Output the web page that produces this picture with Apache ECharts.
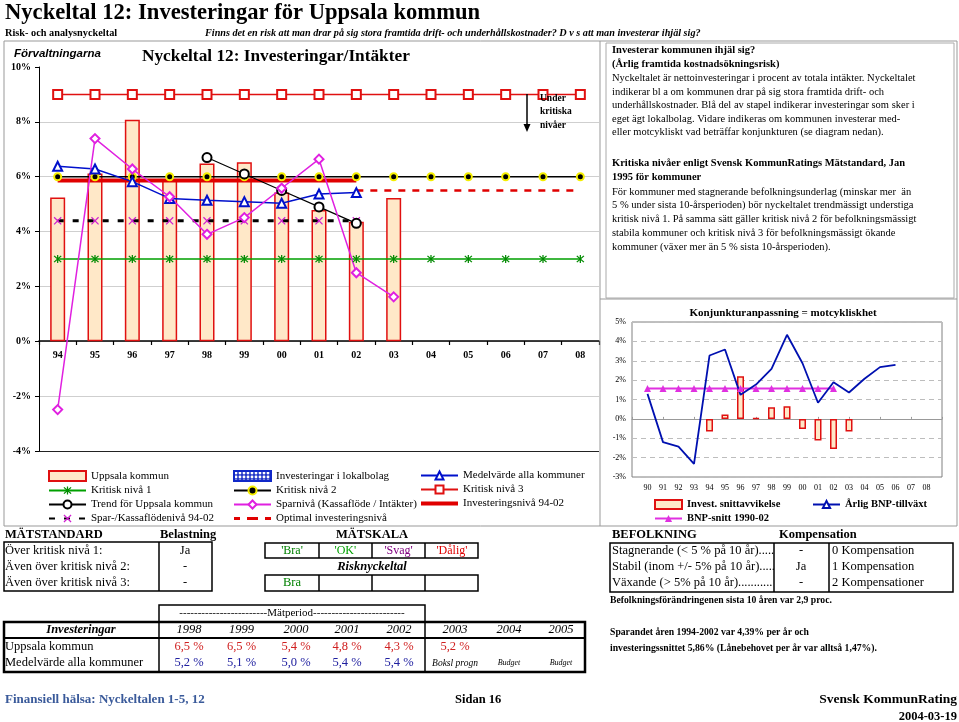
<!DOCTYPE html>
<html><head><meta charset="utf-8">
<script src="https://cdn.jsdelivr.net/npm/echarts@6/dist/echarts.min.js"></script>
<style>html,body{margin:0;padding:0;background:#fff}#c{width:959px;height:722px}</style>
</head><body><div id="c"></div>
<script>
// ---------- DATA ----------
const years = ['94','95','96','97','98','99','00','01','02','03','04','05','06','07','08'];
const uppsala = [5.24, 6.12, 8.08, 5.88, 6.48, 6.53, 5.42, 4.79, 4.36, 5.22, null, null, null, null, null];
const lokalbolag = [];
const medelvarde = [6.38, 6.28, 5.82, 5.21, 5.14, 5.09, 5.03, 5.37, 5.42, null, null, null, null, null, null];
const kritisk1 = [3, 3, 3, 3, 3, 3, 3, 3, 3, 3, 3, 3, 3, 3, 3];
const kritisk2 = [6, 6, 6, 6, 6, 6, 6, 6, 6, 6, 6, 6, 6, 6, 6];
const kritisk3 = [9, 9, 9, 9, 9, 9, 9, 9, 9, 9, 9, 9, 9, 9, 9];
const trend = [null, null, null, null, 6.7, 6.1, 5.5, 4.9, 4.3, null, null, null, null, null, null];
const sparniva = [-2.49, 7.39, 6.28, 5.27, 3.90, 4.51, 5.58, 6.64, 2.50, 1.62, null, null, null, null, null];
const sparKassaNiva = [4.39, 4.39, 4.39, 4.39, 4.39, 4.39, 4.39, 4.39, 4.39, null, null, null, null, null, null];
const investNiva = [5.86, 5.86, 5.86, 5.86, 5.86, 5.86, 5.86, 5.86, 5.86, null, null, null, null, null, null];
const optimalNiva = [null, null, null, null, null, null, null, null, 5.5, 5.5, 5.5, 5.5, 5.5, 5.5, 5.5];

const smallYears = ['90','91','92','93','94','95','96','97','98','99','00','01','02','03','04','05','06','07','08'];
const investAvvik = [null, null, null, null, -0.65, 0.22, 2.2, 0.04, 0.6, 0.65, -0.52, -1.12, -1.55, -0.65, null, null, null, null, null];
const bnpTillvaxt = [1.29, -1.2, -1.43, -2.32, 3.27, 3.58, 1.24, 1.77, 2.58, 4.34, 2.87, 0.83, 1.89, 1.36, 2.07, 2.67, 2.79, null, null];
const bnpSnitt = [1.57, 1.57, 1.57, 1.57, 1.57, 1.57, 1.57, 1.57, 1.57, 1.57, 1.57, 1.57, 1.57, null, null, null, null, null, null];

const tableYears = ['1998','1999','2000','2001','2002','2003','2004','2005'];
const tableUppsala = ['6,5 %','6,5 %','5,4 %','4,8 %','4,3 %','5,2 %'];
const tableMedel = ['5,2 %','5,1 %','5,0 %','5,4 %','5,4 %'];
const tableNotes = ['Boksl progn','Budget','Budget'];

// ---------- STYLE ----------
const SERIF = "'Liberation Serif','Times New Roman',serif";
const SANS = "'Liberation Sans',Arial,sans-serif";
const ASTERISK = 'path://M4.3 0L5.7 0L5.7 10L4.3 10Z M0.5 1.5L1.5 0.5L9.5 8.5L8.5 9.5Z M8.5 0.5L9.5 1.5L1.5 9.5L0.5 8.5Z';
const XMARK = 'path://M0.5 1.5L1.5 0.5L9.5 8.5L8.5 9.5Z M8.5 0.5L9.5 1.5L1.5 9.5L0.5 8.5Z';
const THICKLINE_ICON = 'path://M0 0L37 0L37 4L0 4Z';
const DASH_ICON = 'path://M0 0L6 0L6 3L0 3Z M13 0L24 0L24 3L13 3Z M31 0L37 0L37 3L31 3Z';

function T(x, y, s, font, fill, align) {
  return {type:'text', x:x, y:y, silent:true, z:100,
    style:{text:s, font:font, fill:fill || '#000', textAlign:align || 'left', textVerticalAlign:'middle', align:align || 'left', verticalAlign:'middle'}};
}
function R(x, y, w, h, stroke, lw) {
  return {type:'rect', silent:true, z:90, shape:{x:x, y:y, width:w, height:h}, style:{fill:'none', stroke:stroke || '#000', lineWidth:lw || 1}};
}
function L(x1, y1, x2, y2, stroke, lw) {
  return {type:'line', silent:true, z:90, shape:{x1:x1, y1:y1, x2:x2, y2:y2}, style:{stroke:stroke || '#000', lineWidth:lw || 1}};
}
const f = (w, s, fam, st) => (st ? st + ' ' : '') + (w ? w + ' ' : '') + s + 'px ' + (fam || SERIF);

const g = [];
// header
g.push(T(5, 13, 'Nyckeltal 12: Investeringar för Uppsala kommun', f('bold', 22.6)));
g.push(T(5, 33, 'Risk- och analysnyckeltal', f('bold', 10.3)));
g.push(T(205, 33, 'Finns det en risk att man drar på sig stora framtida drift- och underhållskostnader? D v s att man investerar ihjäl sig?', f('bold', 10.2, SERIF, 'italic')));
// panels
g.push(R(4, 41, 953, 485, '#999', 1));
g.push(L(600, 41, 600, 526, '#999', 1));
g.push(R(606, 43, 348, 255, '#aaa', 1));
g.push(L(600, 299, 957, 299, '#999', 1));
// main chart titles
g.push(T(14, 54, 'Förvaltningarna', f('bold', 11.5, SANS, 'italic')));
g.push(T(142, 57, 'Nyckeltal 12: Investeringar/Intäkter', f('bold', 17.3)));
// under kritiska nivåer
g.push(L(527, 94, 527, 125, '#000', 1.5));
g.push({type:'polygon', silent:true, z:90, shape:{points:[[523.5,124],[530.5,124],[527,132]]}, style:{fill:'#000'}});
g.push(T(540, 99, 'Under', f('bold', 9.5)));
g.push(T(540, 112, 'kritiska', f('bold', 9.5)));
g.push(T(540, 126, 'nivåer', f('bold', 9.5)));

// right text panel
const rt = [
  [50, 'Investerar kommunen ihjäl sig?', 'bold'],
  [64, '(Årlig framtida kostnadsökningsrisk)', 'bold'],
  [78, 'Nyckeltalet är nettoinvesteringar i procent av totala intäkter. Nyckeltalet', ''],
  [92, 'indikerar bl a om kommunen drar på sig stora framtida drift- och', ''],
  [105.5, 'underhållskostnader. Blå del av stapel indikerar investeringar som sker i', ''],
  [119, 'eget ägt lokalbolag. Vidare indikeras om kommunen investerar med-', ''],
  [132.5, 'eller motcykliskt vad beträffar konjunkturen (se diagram nedan).', ''],
  [163, 'Kritiska nivåer enligt Svensk KommunRatings Mätstandard, Jan', 'bold'],
  [177, '1995 för kommuner', 'bold'],
  [192, 'För kommuner med stagnerande befolkningsunderlag (minskar mer  än', ''],
  [205.5, '5 % under sista 10-årsperioden) bör nyckeltalet trendmässigt understiga', ''],
  [219, 'kritisk nivå 1. På samma sätt gäller kritisk nivå 2 för befolkningsmässigt', ''],
  [233, 'stabila kommuner och kritisk nivå 3 för befolkningsmässigt ökande', ''],
  [247, 'kommuner (växer mer än 5 % sista 10-årsperioden).', '']
];
rt.forEach(r => g.push(T(612, r[0], r[1], f(r[2], 10.5))));

// small chart title
g.push(T(783, 313, 'Konjunkturanpassning = motcykliskhet', f('bold', 11), '#000', 'center'));

// MÄTSTANDARD block
g.push(T(5, 535, 'MÄTSTANDARD', f('bold', 12.5)));
g.push(T(160, 535, 'Belastning', f('bold', 12.5)));
g.push(R(4, 542, 208, 49, '#000', 1.5));
g.push(L(159, 542, 159, 591, '#000', 1.5));
const ms = [['Över kritisk nivå 1:', 'Ja'], ['Även över kritisk nivå 2:', '-'], ['Även över kritisk nivå 3:', '-']];
ms.forEach((m, i) => { g.push(T(5, 551 + i * 16, m[0], f('', 12.5))); g.push(T(185, 551 + i * 16, m[1], f('', 12.5), '#000', 'center')); });
// MÄTSKALA
g.push(T(372, 535, 'MÄTSKALA', f('bold', 12.5), '#000', 'center'));
g.push(R(265, 543, 213, 15, '#000', 1.5));
g.push(R(265, 575, 213, 16, '#000', 1.5));
[319, 372, 425].forEach(x => { g.push(L(x, 543, x, 558, '#000', 1.5)); g.push(L(x, 575, x, 591, '#000', 1.5)); });
const skala = [["'Bra'", '#008000'], ["'OK'", '#00A000'], ["'Svag'", '#800080'], ["'Dålig'", '#E00000']];
skala.forEach((s, i) => g.push(T(292 + i * 53.3, 551, s[0], f('', 12), s[1], 'center')));
g.push(T(372, 567, 'Risknyckeltal', f('bold', 12.5, SERIF, 'italic'), '#000', 'center'));
g.push(T(292, 583, 'Bra', f('', 12.5), '#008000', 'center'));

// Mätperiod table
g.push(R(159, 605, 266, 17, '#000', 1.5));
g.push(T(292, 613, '------------------------Mätperiod-------------------------', f('', 11), '#000', 'center'));
g.push(R(4, 622, 581, 50, '#000', 2.5));
g.push(L(4, 638, 585, 638, '#000', 2));
g.push(L(159, 622, 159, 672, '#000', 1.5));
g.push(L(425, 622, 425, 672, '#000', 1.5));
g.push(T(81, 630, 'Investeringar', f('bold', 12.5, SERIF, 'italic'), '#000', 'center'));
const colX = [189, 241.5, 296, 347, 399, 455, 509, 561];
tableYears.forEach((y, i) => g.push(T(colX[i], 630, y, f('', 12.5, SERIF, 'italic'), '#000', 'center')));
g.push(T(5, 647, 'Uppsala kommun', f('', 12.5)));
g.push(T(5, 663, 'Medelvärde alla kommuner', f('', 12.5)));
tableUppsala.forEach((v, i) => g.push(T(colX[i], 647, v, f('', 12.5), '#D02020', 'center')));
tableMedel.forEach((v, i) => g.push(T(colX[i], 663, v, f('', 12.5), '#2020A0', 'center')));
g.push(T(colX[5], 663, tableNotes[0], f('', 9.5, SERIF, 'italic'), '#000', 'center'));
g.push(T(colX[6], 663, tableNotes[1], f('', 8, SERIF, 'italic'), '#000', 'center'));
g.push(T(colX[7], 663, tableNotes[2], f('', 8, SERIF, 'italic'), '#000', 'center'));

// BEFOLKNING block
g.push(T(612, 535, 'BEFOLKNING', f('bold', 12.5)));
g.push(T(779, 535, 'Kompensation', f('bold', 12.5)));
g.push(R(610, 543, 343, 49, '#000', 1.5));
g.push(L(774, 543, 774, 592, '#000', 1.5));
g.push(L(829, 543, 829, 592, '#000', 1.5));
const bef = [['Stagnerande (< 5 % på 10 år).....', '-', '0 Kompensation'], ['Stabil (inom +/- 5% på 10 år).....', 'Ja', '1 Kompensation'], ['Växande (> 5% på 10 år)...........', '-', '2 Kompensationer']];
bef.forEach((b, i) => { const y = 551 + i * 16; g.push(T(612, y, b[0], f('', 12.5))); g.push(T(801, y, b[1], f('', 12.5), '#000', 'center')); g.push(T(832, y, b[2], f('', 12.5))); });
g.push(T(610, 600, 'Befolkningsförändringenen sista 10 åren var 2,9 proc.', f('bold', 9.7)));
g.push(T(610, 632, 'Sparandet åren 1994-2002 var 4,39% per år och', f('bold', 9.7)));
g.push(T(610, 648, 'investeringssnittet 5,86% (Lånebehovet per år var alltså 1,47%).', f('bold', 9.7)));

// footer
g.push(T(5, 700, 'Finansiell hälsa: Nyckeltalen 1-5, 12', f('bold', 13), '#3A5A9A'));
g.push(T(455, 700, 'Sidan 16', f('bold', 12.5)));
g.push(T(957, 700, 'Svensk KommunRating', f('bold', 13.5), '#000', 'right'));
g.push(T(957, 717, '2004-03-19', f('bold', 12.5), '#000', 'right'));

// ---------- CHART ----------
const pad = a => [null].concat(a, [null]);
const smallCats = [''].concat(smallYears, ['']);
const legText = {fontFamily: SERIF, fontSize: 11, color: '#000'};
const legBase = {orient:'vertical', itemWidth:37, itemHeight:10, itemGap:3, padding:0, selectedMode:false, textStyle:legText};

const option = {
  animation: false,
  backgroundColor: '#fff',
  graphic: g,
  legend: [
    Object.assign({left:48, top:470, data:[{name:'Uppsala kommun', icon:'rect'},'Kritisk nivå 1','Trend för Uppsala kommun','Spar-/Kassaflödenivå 94-02']}, legBase),
    Object.assign({left:233, top:470, data:[{name:'Investeringar i lokalbolag', icon:'rect'},'Kritisk nivå 2','Sparnivå (Kassaflöde / Intäkter)',{name:'Optimal investeringsnivå', icon:DASH_ICON}]}, legBase),
    Object.assign({left:420, top:470, data:['Medelvärde alla kommuner','Kritisk nivå 3',{name:'Investeringsnivå 94-02', icon:THICKLINE_ICON}]}, legBase),
    {orient:'vertical', left:654, top:499, itemWidth:27, itemHeight:9, itemGap:3, padding:0, selectedMode:false,
      textStyle:{fontFamily:SERIF, fontSize:10.5, fontWeight:'bold', color:'#000'}, data:[{name:'Invest. snittavvikelse', icon:'rect'},'BNP-snitt 1990-02']},
    {orient:'vertical', left:812, top:499, itemWidth:27, itemHeight:9, itemGap:3, padding:0, selectedMode:false,
      textStyle:{fontFamily:SERIF, fontSize:10.5, fontWeight:'bold', color:'#000'}, data:['Årlig BNP-tillväxt']}
  ],
  grid: [
    {left:39, top:67, width:560, height:384},
    {left:632, top:322, width:310, height:155, show:true, borderColor:'#808080', borderWidth:1},
    {left:39, top:67, width:560, height:274}
  ],
  xAxis: [
    {gridIndex:0, type:'category', data:years, show:false},
    {gridIndex:1, type:'category', data:smallCats, boundaryGap:false, position:'top',
      axisLine:{onZero:true, lineStyle:{color:'#999', width:1}},
      axisTick:{show:true, length:2, lineStyle:{color:'#999'}},
      axisLabel:{show:false}},
    {gridIndex:1, type:'category', data:smallCats, boundaryGap:false, position:'bottom',
      axisLine:{show:false, onZero:false}, axisTick:{show:false},
      axisLabel:{interval:0, margin:7, fontFamily:SERIF, fontSize:8, color:'#000'}},
    {gridIndex:2, type:'category', data:years, position:'bottom',
      axisLine:{onZero:false, lineStyle:{color:'#000', width:1.5}},
      axisTick:{show:true, length:4, lineStyle:{color:'#000', width:1.2}},
      axisLabel:{interval:0, margin:9, fontFamily:SERIF, fontWeight:'bold', fontSize:10, color:'#000'}}
  ],
  yAxis: [
    {gridIndex:0, type:'value', min:-4, max:10, interval:2,
      axisLine:{show:true, lineStyle:{color:'#000', width:1}},
      axisTick:{show:true, length:4, lineStyle:{color:'#000'}},
      axisLabel:{formatter:'{value}%', margin:8, fontFamily:SERIF, fontWeight:'bold', fontSize:10, color:'#000'},
      splitLine:{show:true, lineStyle:{color:['#222','#cfcfcf','#cfcfcf','#cfcfcf','#cfcfcf','#cfcfcf','#cfcfcf','rgba(0,0,0,0)'], width:1}}},
    {gridIndex:1, type:'value', min:-3, max:5, interval:1,
      axisLine:{show:false}, axisTick:{show:false},
      axisLabel:{formatter:'{value}%', margin:6, fontFamily:SERIF, fontSize:8, color:'#000'},
      splitLine:{show:true, lineStyle:{color:'#bdbdbd', type:[5,4], width:1}}},
    {gridIndex:2, type:'value', min:0, max:10, show:false}
  ],
  series: [
    {name:'Uppsala kommun', type:'bar', stack:'inv', data:uppsala, barWidth:15,
      itemStyle:{color:'#FFE8C8', borderColor:'#E01010', borderWidth:1.5}},
    {name:'Investeringar i lokalbolag', type:'bar', stack:'inv', data:lokalbolag,
      itemStyle:{color:'#2438C8', borderColor:'#1028C8', borderWidth:1,
        decal:{symbol:'circle', symbolSize:0.7, color:'#ffffff', dashArrayX:[4,0], dashArrayY:[4,0], rotation:0}}},
    {name:'Kritisk nivå 1', type:'line', data:kritisk1, symbol:ASTERISK, symbolSize:8,
      itemStyle:{color:'#008A00'}, lineStyle:{color:'#00A000', width:1.5}},
    {name:'Kritisk nivå 2', type:'line', data:kritisk2, symbol:'circle', symbolSize:7,
      itemStyle:{color:'#000', borderColor:'#F5EE00', borderWidth:2}, lineStyle:{color:'#000', width:1.5}},
    {name:'Kritisk nivå 3', type:'line', data:kritisk3, symbol:'emptyRect', symbolSize:9,
      itemStyle:{color:'#E01010', borderWidth:1.5}, lineStyle:{color:'#E01010', width:1.5}},
    {name:'Investeringsnivå 94-02', type:'line', data:investNiva, symbol:'none',
      itemStyle:{color:'#E00000'}, lineStyle:{color:'#E00000', width:4}},
    {name:'Optimal investeringsnivå', type:'line', data:optimalNiva, symbol:'none',
      itemStyle:{color:'#E00000'}, lineStyle:{color:'#E00000', width:2.5, type:[7,7]}},
    {name:'Spar-/Kassaflödenivå 94-02', type:'line', data:sparKassaNiva, symbol:XMARK, symbolSize:8,
      itemStyle:{color:'#D020D0'}, lineStyle:{color:'#000', width:3, type:[6,9]}},
    {name:'Medelvärde alla kommuner', type:'line', data:medelvarde, symbol:'emptyTriangle', symbolSize:9,
      itemStyle:{color:'#0010CC', borderWidth:1.5}, lineStyle:{color:'#0010CC', width:1.5}},
    {name:'Trend för Uppsala kommun', type:'line', data:trend, symbol:'emptyCircle', symbolSize:9,
      itemStyle:{color:'#000', borderWidth:1.5}, lineStyle:{color:'#000', width:1.2}},
    {name:'Sparnivå (Kassaflöde / Intäkter)', type:'line', data:sparniva, symbol:'emptyDiamond', symbolSize:9,
      itemStyle:{color:'#E020E0', borderWidth:1.5}, lineStyle:{color:'#E020E0', width:1.5}},

    {name:'Invest. snittavvikelse', type:'bar', xAxisIndex:1, yAxisIndex:1, data:pad(investAvvik), barWidth:7,
      itemStyle:{color:'#FFE8C8', borderColor:'#E01010', borderWidth:1.5}},
    {name:'BNP-snitt 1990-02', type:'line', xAxisIndex:1, yAxisIndex:1, data:pad(bnpSnitt), symbol:'triangle', symbolSize:7,
      itemStyle:{color:'#E030E0'}, lineStyle:{color:'#E030E0', width:2}},
    {name:'Årlig BNP-tillväxt', type:'line', xAxisIndex:1, yAxisIndex:1, data:pad(bnpTillvaxt), symbol:'emptyTriangle', symbolSize:10,
      itemStyle:{color:'#0010B0', borderWidth:1.5}, lineStyle:{color:'#0010B0', width:1.8}}
  ]
};
const chart = echarts.init(document.getElementById('c'), null, {renderer:'canvas'});
chart.setOption(option);
</script>
</body></html>
